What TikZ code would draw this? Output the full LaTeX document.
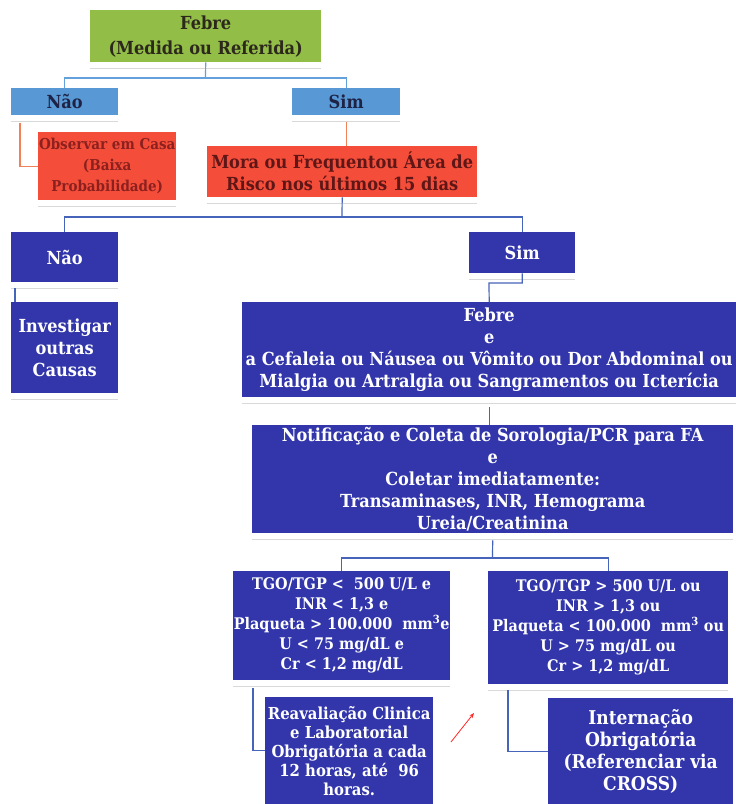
\documentclass[tikz,border=0pt]{standalone}
\usepackage{fontspec}
\setmainfont{DejaVu Serif}[FakeStretch=0.9]
\usetikzlibrary{arrows.meta}
\definecolor{fgreen}{RGB}{146,190,72}
\definecolor{lblue}{RGB}{88,152,212}
\definecolor{fred}{RGB}{244,78,58}
\definecolor{dblue}{RGB}{50,54,170}
\definecolor{maroon}{RGB}{95,22,22}
\definecolor{obstext}{RGB}{140,32,30}
\definecolor{darktxt}{RGB}{45,40,28}
\definecolor{navytxt}{RGB}{30,35,70}
\definecolor{lbline}{RGB}{100,160,220}
\definecolor{bline}{RGB}{70,100,185}
\definecolor{oline}{RGB}{240,130,90}
\begin{document}
\begin{tikzpicture}[x=1pt,y=-1pt,
  bx/.style={anchor=north west, inner sep=0pt, align=center},
  gbox/.style={bx, fill=fgreen, text=darktxt},
  lbox/.style={bx, fill=lblue, text=navytxt},
  rbox/.style={bx, fill=fred, text=maroon},
  dbox/.style={bx, fill=dblue, text=white},
  big/.style={font=\bfseries\fontsize{18}{22}\selectfont},
  mid/.style={font=\bfseries\fontsize{16}{20}\selectfont},
  lbl/.style={draw=lbline, line width=1.2pt},
  bl/.style={draw=bline, line width=1.2pt},
  ol/.style={draw=oline, line width=1.2pt},
  refl/.style={draw=gray!30, line width=1pt},
]
\useasboundingbox (0,0) rectangle (736,804);
\fill[white] (0,0) rectangle (736,804);

% nodes
\node[gbox, font=\bfseries\fontsize{18}{25}\selectfont, minimum width=231pt, minimum height=52pt] (febre) at (90,10) {Febre\\(Medida ou Referida)};
\node[lbox, big, minimum width=107pt, minimum height=27pt] (nao1) at (11,88) {Não};
\node[lbox, big, minimum width=108pt, minimum height=27pt] (sim1) at (292,88) {Sim};
\node[rbox, text=obstext, font=\bfseries\fontsize{15}{21}\selectfont, minimum width=138pt, minimum height=68pt] (obs) at (38,132) {Observar em Casa\\(Baixa\\Probabilidade)};
\node[rbox, big, minimum width=270pt, minimum height=51pt] (mora) at (207,146) {Mora ou Frequentou Área de\\Risco nos últimos 15 dias};
\node[dbox, big, minimum width=107pt, minimum height=50pt] (nao2) at (11,232) {Não};
\node[dbox, big, minimum width=106pt, minimum height=41pt] (sim2) at (469,232) {Sim};
\node[dbox, big, minimum width=107pt, minimum height=91pt] (inv) at (11,302) {Investigar\\outras\\Causas};
\node[dbox, big, minimum width=494pt, minimum height=95pt] (febre2) at (242,302) {Febre\\e\\a Cefaleia ou Náusea ou Vômito ou Dor Abdominal ou\\Mialgia ou Artralgia ou Sangramentos ou Icterícia};
\node[dbox, big, minimum width=481pt, minimum height=108pt] (notif) at (252,425) {Notificação e Coleta de Sorologia/PCR para FA\\e\\Coletar imediatamente:\\Transaminases, INR, Hemograma\\Ureia/Creatinina};
\node[dbox, mid, minimum width=217pt, minimum height=109pt] (crit1) at (233,571) {TGO/TGP <\ \ 500 U/L e\\INR < 1,3 e\\Plaqueta > 100.000\ \ mm\textsuperscript{3}e\\U < 75 mg/dL e\\Cr < 1,2 mg/dL};
\node[dbox, mid, minimum width=240pt, minimum height=113pt] (crit2) at (488,571) {TGO/TGP > 500 U/L ou\\INR > 1,3 ou\\Plaqueta < 100.000\ \ mm\textsuperscript{3} ou\\U > 75 mg/dL ou\\Cr > 1,2 mg/dL};
\node[dbox, font=\bfseries\fontsize{16.5}{19}\selectfont, minimum width=168pt, minimum height=107pt] (reav) at (265,697) {Reavaliação Clinica\\e Laboratorial\\Obrigatória a cada\\12 horas, até\ \ 96\\horas.};
\node[dbox, font=\bfseries\fontsize{19}{22}\selectfont, minimum width=185pt, minimum height=106pt] (intern) at (548,698) {Internação\\Obrigatória\\(Referenciar via\\CROSS)};

% reflections
\foreach \n in {febre,nao1,sim1,obs,mora,nao2,sim2,inv,febre2,notif,crit1,crit2}
  \draw[refl] ([yshift=-6pt]\n.south west) -- ([yshift=-6pt]\n.south east);

% connectors
\coordinate (j1) at (205.5,78);
\draw[lbl] (febre.south) -- (j1);
\draw[lbl] (nao1.north) |- (j1) -| (sim1.north);
\draw[ol] ([xshift=9pt,yshift=-8pt]nao1.south west) |- (obs.west);
\draw[ol] ([yshift=-7pt]sim1.south) -- (sim1.south |- mora.north);
\coordinate (j2) at (342,217);
\draw[bl] (mora.south) -- (j2);
\draw[bl] (nao2.north) |- (j2) -| (sim2.north);
\draw[bl] ([xshift=4pt,yshift=-6pt]nao2.south west) -- ([xshift=4pt]inv.north west);
\coordinate (j3) at (489,283);
\draw[bl] (sim2.south) |- (j3) -- (febre2.north);
\draw[bl] ([yshift=-10pt]febre2.south) -- (febre2.south |- notif.north);
\coordinate (j4) at (492.5,558);
\draw[bl] ([yshift=-7pt]notif.south) -- (j4);
\draw[bl] (crit1.north) |- (j4) -| (crit2.north);
\draw[bl] ([xshift=20pt,yshift=-8pt]crit1.south west) |- (reav.west);
\draw[bl] ([xshift=20pt,yshift=-6pt]crit2.south west) |- (intern.west);

% stray red mark
\coordinate (ra) at (451,742);
\coordinate (rb) at (474,713);
\draw[red!80!pink, line width=0.8pt, -{Stealth[length=5pt,width=4pt]}] (ra) -- (rb);
\end{tikzpicture}
\end{document}
